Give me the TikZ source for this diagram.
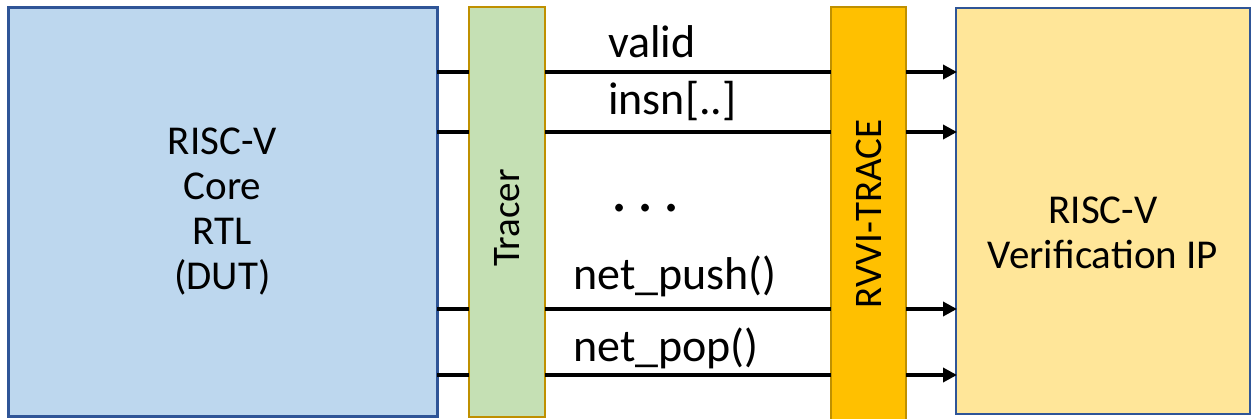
\documentclass[tikz,border=0pt]{standalone}
\usepackage{fontspec}
\setmainfont{Carlito}
\usetikzlibrary{arrows.meta}
\definecolor{dutfill}{HTML}{BDD7EE}
\definecolor{blueline}{HTML}{2F5597}
\definecolor{tracerfill}{HTML}{C5E0B4}
\definecolor{goldline}{HTML}{BF9000}
\definecolor{rvvifill}{HTML}{FFC000}
\definecolor{vipfill}{HTML}{FFE699}
\tikzset{
  blk/.style={draw, inner sep=0pt},
  sig/.style={line width=3.5pt, black},
  sigarrow/.style={sig, -{Triangle[length=14pt,width=14pt]}},
  lbl/.style={anchor=base west, inner sep=0pt, font=\fontsize{46}{50}\selectfont},
  boxtxt/.style={align=center, font=\fontsize{41}{45}\selectfont},
  vtxt/.style={rotate=90, inner sep=0pt, font=\fontsize{39}{42}\selectfont},
}
\begin{document}
\begin{tikzpicture}[x=1pt,y=-1pt]
\useasboundingbox (0,0) rectangle (1253,419);
% blocks
\draw[blueline, line width=3pt, fill=dutfill] (8,8) rectangle (437,417);
\node[boxtxt] (dut) at (222.5,212) {RISC-V\\Core\\RTL\\(DUT)};
\draw[goldline, line width=2.5pt, fill=tracerfill] (469,7) rectangle (545,417);
\node[vtxt] (tracer) at (507,218) {Tracer};
\draw[goldline, line width=2pt, fill=rvvifill] (831,7) rectangle (906,420);
\node[vtxt] (rvvi) at (868.5,214) {RVVI-TRACE};
\draw[blueline, line width=2pt, fill=vipfill] (956,8) rectangle (1250,414);
\node[boxtxt] (vip) at (1103,233) {RISC-V\\Verification IP};
% anchor coordinates
\foreach \n/\y in {a/72,b/132,c/309,d/375}{
  \coordinate (\n0) at (437,\y);
  \coordinate (\n1) at (469,\y);
  \coordinate (\n2) at (545,\y);
  \coordinate (\n3) at (831,\y);
  \coordinate (\n4) at (906,\y);
  \coordinate (\n5) at (957,\y);
}
\foreach \n in {a,b,c,d}{
  \draw[sig] (\n0) -- (\n1);
  \draw[sig] (\n2) -- (\n3);
  \draw[sigarrow] (\n4) -- (\n5);
}
% labels
\node[lbl] (lv) at (608,58) {valid};
\node[lbl] (li) at (608,115) {insn[..]};
\node[lbl] (lpush) at (573,290) {net\_push()};
\node[lbl] (lpop) at (573,362) {net\_pop()};
\node[font=\fontsize{64}{64}\selectfont, inner sep=0pt, anchor=base] (dots) at (645.5,212) {.\hspace{10pt}.\hspace{10pt}.};
\end{tikzpicture}
\end{document}
